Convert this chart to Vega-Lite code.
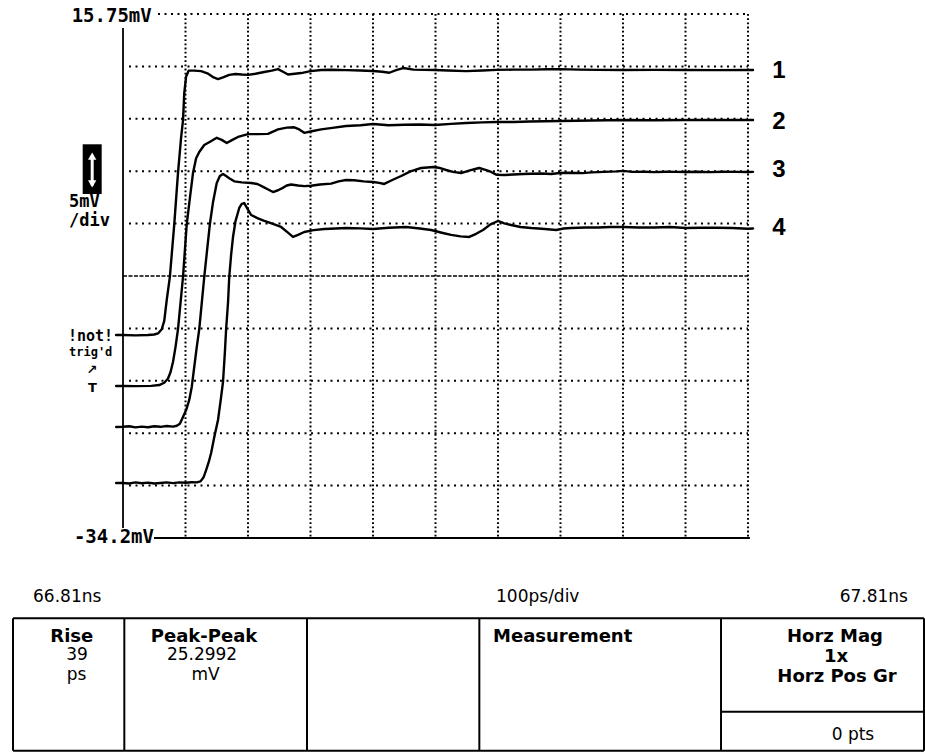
{
  "$schema": "https://vega.github.io/schema/vega-lite/v6.json",
  "padding": {"left": 12, "top": 4, "right": 2, "bottom": 0},
  "spacing": 0,
  "config": {"view": {"stroke": null}, "font": "DejaVu Sans"},
  "datasets": {
    "vgrid": [
      {"t": 100, "top": 15.75, "bottom": -34.2}, {"t": 200, "top": 15.75, "bottom": -34.2},
      {"t": 300, "top": 15.75, "bottom": -34.2}, {"t": 400, "top": 15.75, "bottom": -34.2},
      {"t": 500, "top": 15.75, "bottom": -34.2}, {"t": 600, "top": 15.75, "bottom": -34.2},
      {"t": 700, "top": 15.75, "bottom": -34.2}, {"t": 800, "top": 15.75, "bottom": -34.2},
      {"t": 900, "top": 15.75, "bottom": -34.2}, {"t": 1000, "top": 15.75, "bottom": -34.2}
    ],
    "hgrid": [
      {"v": 15.75, "from": 56, "to": 1000},
      {"v": 10.755, "from": 9.6, "to": 1000},
      {"v": 5.76, "from": 9.6, "to": 1000},
      {"v": 0.765, "from": 9.6, "to": 1000},
      {"v": -4.23, "from": 9.6, "to": 1000},
      {"v": -14.22, "from": 9.6, "to": 1000},
      {"v": -19.215, "from": 9.6, "to": 1000},
      {"v": -24.21, "from": 9.6, "to": 1000},
      {"v": -29.205, "from": 9.6, "to": 1000}
    ],
    "centerLine": [{"v": -9.225, "from": 0, "to": 1000}],
    "solidH": [{"v": -34.2, "from": 49.6, "to": 1003}],
    "solidV": [{"t": 0, "top": 14.42, "bottom": -33.24}],
    "icon": [{"t1": -64.5, "t2": -34.1, "v1": 3.33, "v2": -1.41}],
    "iconShaft": [{"t": -49.3, "top": 2.3, "bottom": -0.6}],
    "iconHeads": [{"t": -49.3, "v": 2.2, "dir": "up"}, {"t": -49.3, "v": -0.45, "dir": "down"}],
    "limits": [{"t": 46, "v": 15.56, "label": "15.75mV"}, {"t": 49.6, "v": -34.1, "label": "-34.2mV"}],
    "scaleLabel": [{"t": -86.4, "v": -2.17, "label": "5mV"}, {"t": -86.4, "v": -3.95, "label": "/div"}],
    "notLabel": [{"t": -88, "v": -14.94, "label": "!not!"}],
    "trigLabel": [{"t": -86.4, "v": -16.5, "label": "trig'd"}],
    "trigMarks": [{"t": -49.6, "v": -18.15, "label": "↗"}, {"t": -49.0, "v": -19.9, "label": "T"}],
    "traceLabels": [
      {"t": 1049.6, "v": 10.32, "label": "1"}, {"t": 1049.6, "v": 5.5, "label": "2"},
      {"t": 1049.6, "v": 0.88, "label": "3"}, {"t": 1049.6, "v": -4.65, "label": "4"}
    ],
    "traces": [
      {"s":"1","t":-11,"v":-14.85},{"s":"1","t":0,"v":-14.85},{"s":"1","t":20,"v":-14.88},{"s":"1","t":40,"v":-14.85},{"s":"1","t":50,"v":-14.8},{"s":"1","t":56,"v":-14.7},{"s":"1","t":62,"v":-14.3},{"s":"1","t":66,"v":-13.5},{"s":"1","t":70,"v":-11.5},{"s":"1","t":75,"v":-9.3},{"s":"1","t":82,"v":-4.3},{"s":"1","t":88,"v":0.6},{"s":"1","t":93,"v":4.0},{"s":"1","t":96,"v":5.6},{"s":"1","t":98,"v":8.2},{"s":"1","t":101,"v":9.8},{"s":"1","t":105,"v":10.35},{"s":"1","t":114,"v":10.35},{"s":"1","t":125,"v":10.3},{"s":"1","t":135,"v":10.1},{"s":"1","t":145,"v":9.7},{"s":"1","t":152,"v":9.55},{"s":"1","t":160,"v":9.7},{"s":"1","t":170,"v":9.95},{"s":"1","t":180,"v":10.03},{"s":"1","t":190,"v":9.98},{"s":"1","t":200,"v":9.95},{"s":"1","t":212,"v":10.05},{"s":"1","t":226,"v":10.22},{"s":"1","t":238,"v":10.35},{"s":"1","t":248,"v":10.5},{"s":"1","t":256,"v":10.25},{"s":"1","t":264,"v":9.98},{"s":"1","t":275,"v":10.05},{"s":"1","t":285,"v":10.12},{"s":"1","t":300,"v":10.3},{"s":"1","t":317,"v":10.41},{"s":"1","t":335,"v":10.43},{"s":"1","t":357,"v":10.4},{"s":"1","t":380,"v":10.36},{"s":"1","t":400,"v":10.32},{"s":"1","t":415,"v":10.25},{"s":"1","t":426,"v":10.15},{"s":"1","t":437,"v":10.4},{"s":"1","t":448,"v":10.6},{"s":"1","t":465,"v":10.45},{"s":"1","t":499,"v":10.41},{"s":"1","t":520,"v":10.36},{"s":"1","t":549,"v":10.3},{"s":"1","t":575,"v":10.36},{"s":"1","t":598,"v":10.42},{"s":"1","t":625,"v":10.45},{"s":"1","t":653,"v":10.45},{"s":"1","t":680,"v":10.48},{"s":"1","t":699,"v":10.5},{"s":"1","t":730,"v":10.45},{"s":"1","t":760,"v":10.42},{"s":"1","t":800,"v":10.41},{"s":"1","t":850,"v":10.42},{"s":"1","t":900,"v":10.41},{"s":"1","t":950,"v":10.4},{"s":"1","t":1000,"v":10.41},{"s":"1","t":1008,"v":10.41},
      {"s":"2","t":-11,"v":-19.71},{"s":"2","t":0,"v":-19.7},{"s":"2","t":20,"v":-19.72},{"s":"2","t":45,"v":-19.7},{"s":"2","t":58,"v":-19.62},{"s":"2","t":66,"v":-19.4},{"s":"2","t":72,"v":-19.0},{"s":"2","t":76,"v":-18.4},{"s":"2","t":80,"v":-17.42},{"s":"2","t":84,"v":-16.0},{"s":"2","t":88,"v":-14.28},{"s":"2","t":92,"v":-11.8},{"s":"2","t":96,"v":-9.32},{"s":"2","t":102,"v":-4.27},{"s":"2","t":107,"v":-1.8},{"s":"2","t":112,"v":0.59},{"s":"2","t":117,"v":2.0},{"s":"2","t":122,"v":2.6},{"s":"2","t":130,"v":3.26},{"s":"2","t":140,"v":3.6},{"s":"2","t":150,"v":3.95},{"s":"2","t":158,"v":3.75},{"s":"2","t":166,"v":3.45},{"s":"2","t":175,"v":3.75},{"s":"2","t":184,"v":4.03},{"s":"2","t":200,"v":4.3},{"s":"2","t":215,"v":4.3},{"s":"2","t":232,"v":4.32},{"s":"2","t":248,"v":4.75},{"s":"2","t":262,"v":4.92},{"s":"2","t":274,"v":4.95},{"s":"2","t":282,"v":4.75},{"s":"2","t":290,"v":4.42},{"s":"2","t":300,"v":4.55},{"s":"2","t":317,"v":4.75},{"s":"2","t":335,"v":4.9},{"s":"2","t":357,"v":5.07},{"s":"2","t":380,"v":5.15},{"s":"2","t":400,"v":5.26},{"s":"2","t":425,"v":5.15},{"s":"2","t":450,"v":5.2},{"s":"2","t":475,"v":5.22},{"s":"2","t":499,"v":5.17},{"s":"2","t":525,"v":5.28},{"s":"2","t":549,"v":5.36},{"s":"2","t":575,"v":5.42},{"s":"2","t":598,"v":5.46},{"s":"2","t":625,"v":5.45},{"s":"2","t":650,"v":5.5},{"s":"2","t":675,"v":5.52},{"s":"2","t":699,"v":5.55},{"s":"2","t":725,"v":5.57},{"s":"2","t":750,"v":5.6},{"s":"2","t":775,"v":5.62},{"s":"2","t":800,"v":5.65},{"s":"2","t":850,"v":5.62},{"s":"2","t":900,"v":5.65},{"s":"2","t":950,"v":5.65},{"s":"2","t":1000,"v":5.65},{"s":"2","t":1008,"v":5.65},
      {"s":"3","t":-11,"v":-23.62},{"s":"3","t":0,"v":-23.6},{"s":"3","t":10,"v":-23.55},{"s":"3","t":20,"v":-23.65},{"s":"3","t":30,"v":-23.58},{"s":"3","t":40,"v":-23.64},{"s":"3","t":50,"v":-23.55},{"s":"3","t":60,"v":-23.6},{"s":"3","t":70,"v":-23.52},{"s":"3","t":80,"v":-23.58},{"s":"3","t":86,"v":-23.5},{"s":"3","t":91,"v":-23.3},{"s":"3","t":96,"v":-22.66},{"s":"3","t":101,"v":-22.0},{"s":"3","t":106,"v":-21.04},{"s":"3","t":110,"v":-19.8},{"s":"3","t":114,"v":-17.9},{"s":"3","t":118,"v":-16.0},{"s":"3","t":122,"v":-14.28},{"s":"3","t":126,"v":-11.8},{"s":"3","t":130,"v":-9.32},{"s":"3","t":135,"v":-6.5},{"s":"3","t":139,"v":-4.27},{"s":"3","t":144,"v":-2.2},{"s":"3","t":150,"v":-0.36},{"s":"3","t":155,"v":0.3},{"s":"3","t":160,"v":0.5},{"s":"3","t":165,"v":0.3},{"s":"3","t":170,"v":0.1},{"s":"3","t":178,"v":-0.2},{"s":"3","t":190,"v":-0.3},{"s":"3","t":205,"v":-0.36},{"s":"3","t":215,"v":-0.45},{"s":"3","t":225,"v":-0.75},{"s":"3","t":233,"v":-1.0},{"s":"3","t":240,"v":-1.22},{"s":"3","t":248,"v":-1.05},{"s":"3","t":255,"v":-0.85},{"s":"3","t":262,"v":-0.6},{"s":"3","t":269,"v":-0.5},{"s":"3","t":280,"v":-0.6},{"s":"3","t":290,"v":-0.66},{"s":"3","t":301,"v":-0.62},{"s":"3","t":315,"v":-0.5},{"s":"3","t":333,"v":-0.42},{"s":"3","t":345,"v":-0.2},{"s":"3","t":357,"v":-0.07},{"s":"3","t":370,"v":-0.1},{"s":"3","t":385,"v":-0.2},{"s":"3","t":400,"v":-0.26},{"s":"3","t":410,"v":-0.35},{"s":"3","t":418,"v":-0.45},{"s":"3","t":430,"v":-0.1},{"s":"3","t":445,"v":0.31},{"s":"3","t":460,"v":0.75},{"s":"3","t":477,"v":1.07},{"s":"3","t":487,"v":1.12},{"s":"3","t":496,"v":1.17},{"s":"3","t":505,"v":1.1},{"s":"3","t":517,"v":0.88},{"s":"3","t":528,"v":0.7},{"s":"3","t":541,"v":0.59},{"s":"3","t":555,"v":0.85},{"s":"3","t":565,"v":1.0},{"s":"3","t":570,"v":1.07},{"s":"3","t":580,"v":0.9},{"s":"3","t":589,"v":0.69},{"s":"3","t":598,"v":0.42},{"s":"3","t":610,"v":0.4},{"s":"3","t":625,"v":0.45},{"s":"3","t":640,"v":0.5},{"s":"3","t":653,"v":0.52},{"s":"3","t":670,"v":0.55},{"s":"3","t":685,"v":0.5},{"s":"3","t":699,"v":0.6},{"s":"3","t":715,"v":0.62},{"s":"3","t":735,"v":0.58},{"s":"3","t":750,"v":0.65},{"s":"3","t":770,"v":0.7},{"s":"3","t":790,"v":0.75},{"s":"3","t":800,"v":0.8},{"s":"3","t":815,"v":0.7},{"s":"3","t":835,"v":0.72},{"s":"3","t":850,"v":0.68},{"s":"3","t":870,"v":0.72},{"s":"3","t":885,"v":0.7},{"s":"3","t":901,"v":0.69},{"s":"3","t":920,"v":0.72},{"s":"3","t":940,"v":0.68},{"s":"3","t":960,"v":0.72},{"s":"3","t":980,"v":0.7},{"s":"3","t":1000,"v":0.69},{"s":"3","t":1008,"v":0.7},
      {"s":"4","t":-11,"v":-28.96},{"s":"4","t":0,"v":-28.95},{"s":"4","t":10,"v":-29.0},{"s":"4","t":20,"v":-28.9},{"s":"4","t":30,"v":-28.98},{"s":"4","t":40,"v":-28.92},{"s":"4","t":50,"v":-29.0},{"s":"4","t":60,"v":-28.95},{"s":"4","t":70,"v":-28.9},{"s":"4","t":80,"v":-28.97},{"s":"4","t":90,"v":-28.9},{"s":"4","t":100,"v":-28.93},{"s":"4","t":110,"v":-28.88},{"s":"4","t":118,"v":-28.9},{"s":"4","t":124,"v":-28.8},{"s":"4","t":129,"v":-28.4},{"s":"4","t":133,"v":-27.72},{"s":"4","t":137,"v":-27.0},{"s":"4","t":141,"v":-26.1},{"s":"4","t":146,"v":-24.6},{"s":"4","t":152,"v":-22.95},{"s":"4","t":156,"v":-21.2},{"s":"4","t":160,"v":-19.33},{"s":"4","t":163,"v":-16.5},{"s":"4","t":165,"v":-14.28},{"s":"4","t":168,"v":-11.8},{"s":"4","t":170,"v":-9.32},{"s":"4","t":173,"v":-7.2},{"s":"4","t":176,"v":-5.51},{"s":"4","t":180,"v":-4.0},{"s":"4","t":186,"v":-2.74},{"s":"4","t":190,"v":-2.35},{"s":"4","t":194,"v":-2.27},{"s":"4","t":199,"v":-2.8},{"s":"4","t":205,"v":-3.41},{"s":"4","t":215,"v":-3.7},{"s":"4","t":225,"v":-3.95},{"s":"4","t":232,"v":-4.08},{"s":"4","t":242,"v":-4.3},{"s":"4","t":253,"v":-4.55},{"s":"4","t":262,"v":-5.0},{"s":"4","t":272,"v":-5.5},{"s":"4","t":280,"v":-5.3},{"s":"4","t":290,"v":-5.03},{"s":"4","t":305,"v":-4.85},{"s":"4","t":322,"v":-4.74},{"s":"4","t":340,"v":-4.7},{"s":"4","t":357,"v":-4.65},{"s":"4","t":380,"v":-4.68},{"s":"4","t":400,"v":-4.74},{"s":"4","t":425,"v":-4.62},{"s":"4","t":453,"v":-4.55},{"s":"4","t":475,"v":-4.7},{"s":"4","t":493,"v":-4.84},{"s":"4","t":510,"v":-5.1},{"s":"4","t":525,"v":-5.31},{"s":"4","t":540,"v":-5.45},{"s":"4","t":554,"v":-5.5},{"s":"4","t":565,"v":-5.2},{"s":"4","t":576,"v":-4.84},{"s":"4","t":588,"v":-4.3},{"s":"4","t":600,"v":-3.98},{"s":"4","t":610,"v":-4.2},{"s":"4","t":621,"v":-4.36},{"s":"4","t":636,"v":-4.55},{"s":"4","t":653,"v":-4.65},{"s":"4","t":670,"v":-4.72},{"s":"4","t":693,"v":-4.84},{"s":"4","t":705,"v":-4.7},{"s":"4","t":717,"v":-4.65},{"s":"4","t":740,"v":-4.6},{"s":"4","t":760,"v":-4.6},{"s":"4","t":780,"v":-4.55},{"s":"4","t":800,"v":-4.55},{"s":"4","t":825,"v":-4.6},{"s":"4","t":850,"v":-4.6},{"s":"4","t":875,"v":-4.55},{"s":"4","t":901,"v":-4.65},{"s":"4","t":925,"v":-4.62},{"s":"4","t":950,"v":-4.62},{"s":"4","t":975,"v":-4.65},{"s":"4","t":1000,"v":-4.72},{"s":"4","t":1008,"v":-4.7}
    ],
    "tableH": [
      {"v": 34.46, "from": 0, "to": 100},
      {"v": 99.36, "from": 0, "to": 100},
      {"v": 80.25, "from": 77.72, "to": 100}
    ],
    "tableV": [
      {"t": 0, "top": 34.46, "bottom": 99.36}, {"t": 12.22, "top": 34.46, "bottom": 99.36},
      {"t": 32.27, "top": 34.46, "bottom": 99.36}, {"t": 51.19, "top": 34.46, "bottom": 99.36},
      {"t": 77.72, "top": 34.46, "bottom": 99.36}, {"t": 100, "top": 34.46, "bottom": 99.36}
    ],
    "tableText": [
      {"kind": "regLeft", "t": 2.2, "v": 26.3, "label": "66.81ns"},
      {"kind": "regCenter", "t": 57.6, "v": 26.3, "label": "100ps/div"},
      {"kind": "regRight", "t": 98.24, "v": 26.3, "label": "67.81ns"},
      {"kind": "boldCenter", "t": 6.45, "v": 45.9, "label": "Rise"},
      {"kind": "regCenter", "t": 7.03, "v": 54.9, "label": "39"},
      {"kind": "regCenter", "t": 6.97, "v": 64.7, "label": "ps"},
      {"kind": "boldCenter", "t": 20.97, "v": 45.9, "label": "Peak-Peak"},
      {"kind": "regCenter", "t": 20.75, "v": 54.9, "label": "25.2992"},
      {"kind": "regCenter", "t": 21.13, "v": 64.7, "label": "mV"},
      {"kind": "boldLeft", "t": 52.69, "v": 45.9, "label": "Measurement"},
      {"kind": "boldCenter", "t": 90.23, "v": 45.9, "label": "Horz Mag"},
      {"kind": "boldCenter", "t": 90.34, "v": 55.7, "label": "1x"},
      {"kind": "boldCenter", "t": 90.45, "v": 65.7, "label": "Horz Pos Gr"},
      {"kind": "regCenter", "t": 92.2, "v": 94.1, "label": "0 pts"}
    ]
  },
  "vconcat": [
    {
      "width": 911,
      "height": 544,
      "layer": [
        {
          "data": {"name": "vgrid"},
          "mark": {"type": "rule", "color": "black", "strokeWidth": 2, "strokeDash": [1.8, 2.4]},
          "encoding": {
            "x": {"field": "t", "type": "quantitative", "scale": {"domain": [-176, 1281.6], "nice": false, "zero": false}, "axis": null},
            "y": {"field": "top", "type": "quantitative", "scale": {"domain": [-35.151, 16.703], "nice": false, "zero": false}, "axis": null},
            "y2": {"field": "bottom"}
          }
        },
        {
          "data": {"name": "hgrid"},
          "mark": {"type": "rule", "color": "black", "strokeWidth": 2, "strokeDash": [2, 4.5]},
          "encoding": {
            "y": {"field": "v", "type": "quantitative", "scale": {"domain": [-35.151, 16.703], "nice": false, "zero": false}, "axis": null},
            "x": {"field": "from", "type": "quantitative", "scale": {"domain": [-176, 1281.6], "nice": false, "zero": false}, "axis": null},
            "x2": {"field": "to"}
          }
        },
        {
          "data": {"name": "centerLine"},
          "mark": {"type": "rule", "color": "black", "strokeWidth": 1.5, "strokeDash": [4, 1.5]},
          "encoding": {
            "y": {"field": "v", "type": "quantitative"},
            "x": {"field": "from", "type": "quantitative"},
            "x2": {"field": "to"}
          }
        },
        {
          "data": {"name": "solidH"},
          "mark": {"type": "rule", "color": "black", "strokeWidth": 2.2},
          "encoding": {
            "y": {"field": "v", "type": "quantitative"},
            "x": {"field": "from", "type": "quantitative"},
            "x2": {"field": "to"}
          }
        },
        {
          "data": {"name": "solidV"},
          "mark": {"type": "rule", "color": "black", "strokeWidth": 1.8},
          "encoding": {
            "x": {"field": "t", "type": "quantitative"},
            "y": {"field": "top", "type": "quantitative"},
            "y2": {"field": "bottom"}
          }
        },
        {
          "data": {"name": "traces"},
          "mark": {"type": "line", "color": "black", "strokeJoin": "round", "strokeCap": "round"},
          "encoding": {
            "x": {"field": "t", "type": "quantitative"},
            "y": {"field": "v", "type": "quantitative"},
            "detail": {"field": "s", "type": "nominal"},
            "strokeWidth": {"field": "s", "type": "nominal", "scale": {"domain": ["1", "2", "3", "4"], "range": [2.4, 2.4, 3.6, 3.2]}, "legend": null}
          }
        },
        {
          "data": {"name": "icon"},
          "mark": {"type": "rect", "color": "black"},
          "encoding": {
            "x": {"field": "t1", "type": "quantitative"},
            "x2": {"field": "t2"},
            "y": {"field": "v1", "type": "quantitative"},
            "y2": {"field": "v2"}
          }
        },
        {
          "data": {"name": "iconShaft"},
          "mark": {"type": "rule", "color": "white", "strokeWidth": 3},
          "encoding": {
            "x": {"field": "t", "type": "quantitative"},
            "y": {"field": "top", "type": "quantitative"},
            "y2": {"field": "bottom"}
          }
        },
        {
          "data": {"name": "iconHeads"},
          "mark": {"type": "point", "filled": true, "color": "white", "opacity": 1, "size": 70},
          "encoding": {
            "x": {"field": "t", "type": "quantitative"},
            "y": {"field": "v", "type": "quantitative"},
            "shape": {"field": "dir", "type": "nominal", "scale": {"domain": ["up", "down"], "range": ["triangle-up", "triangle-down"]}, "legend": null}
          }
        },
        {
          "data": {"name": "limits"},
          "mark": {"type": "text", "font": "DejaVu Sans Mono", "fontWeight": "bold", "fontSize": 19, "align": "right", "baseline": "middle", "color": "black"},
          "encoding": {
            "x": {"field": "t", "type": "quantitative"},
            "y": {"field": "v", "type": "quantitative"},
            "text": {"field": "label"}
          }
        },
        {
          "data": {"name": "scaleLabel"},
          "mark": {"type": "text", "font": "DejaVu Sans Mono", "fontWeight": "bold", "fontSize": 17, "align": "left", "baseline": "middle", "color": "black"},
          "encoding": {
            "x": {"field": "t", "type": "quantitative"},
            "y": {"field": "v", "type": "quantitative"},
            "text": {"field": "label"}
          }
        },
        {
          "data": {"name": "notLabel"},
          "mark": {"type": "text", "font": "DejaVu Sans Mono", "fontWeight": "bold", "fontSize": 15, "align": "left", "baseline": "middle", "color": "black"},
          "encoding": {
            "x": {"field": "t", "type": "quantitative"},
            "y": {"field": "v", "type": "quantitative"},
            "text": {"field": "label"}
          }
        },
        {
          "data": {"name": "trigLabel"},
          "mark": {"type": "text", "font": "DejaVu Sans Mono", "fontWeight": "bold", "fontSize": 12, "align": "left", "baseline": "middle", "color": "black"},
          "encoding": {
            "x": {"field": "t", "type": "quantitative"},
            "y": {"field": "v", "type": "quantitative"},
            "text": {"field": "label"}
          }
        },
        {
          "data": {"name": "trigMarks"},
          "mark": {"type": "text", "font": "DejaVu Sans", "fontWeight": "bold", "fontSize": 13, "align": "center", "baseline": "middle", "color": "black"},
          "encoding": {
            "x": {"field": "t", "type": "quantitative"},
            "y": {"field": "v", "type": "quantitative"},
            "text": {"field": "label"}
          }
        },
        {
          "data": {"name": "traceLabels"},
          "mark": {"type": "text", "font": "Liberation Sans", "fontWeight": "bold", "fontSize": 24, "align": "center", "baseline": "middle", "color": "black"},
          "encoding": {
            "x": {"field": "t", "type": "quantitative"},
            "y": {"field": "v", "type": "quantitative"},
            "text": {"field": "label"}
          }
        }
      ]
    },
    {
      "width": 911,
      "height": 204,
      "layer": [
        {
          "data": {"name": "tableH"},
          "mark": {"type": "rule", "color": "black", "strokeWidth": 2},
          "encoding": {
            "y": {"field": "v", "type": "quantitative", "scale": {"domain": [0, 100], "nice": false, "zero": false, "reverse": true}, "axis": null},
            "x": {"field": "from", "type": "quantitative", "scale": {"domain": [0, 100], "nice": false, "zero": false}, "axis": null},
            "x2": {"field": "to"}
          }
        },
        {
          "data": {"name": "tableV"},
          "mark": {"type": "rule", "color": "black", "strokeWidth": 2},
          "encoding": {
            "x": {"field": "t", "type": "quantitative"},
            "y": {"field": "top", "type": "quantitative"},
            "y2": {"field": "bottom"}
          }
        },
        {
          "data": {"name": "tableText"},
          "transform": [{"filter": "datum.kind === 'regLeft'"}],
          "mark": {"type": "text", "font": "DejaVu Sans", "fontSize": 17, "align": "left", "baseline": "alphabetic", "color": "black"},
          "encoding": {"x": {"field": "t", "type": "quantitative"}, "y": {"field": "v", "type": "quantitative"}, "text": {"field": "label"}}
        },
        {
          "data": {"name": "tableText"},
          "transform": [{"filter": "datum.kind === 'regCenter'"}],
          "mark": {"type": "text", "font": "DejaVu Sans", "fontSize": 17, "align": "center", "baseline": "alphabetic", "color": "black"},
          "encoding": {"x": {"field": "t", "type": "quantitative"}, "y": {"field": "v", "type": "quantitative"}, "text": {"field": "label"}}
        },
        {
          "data": {"name": "tableText"},
          "transform": [{"filter": "datum.kind === 'regRight'"}],
          "mark": {"type": "text", "font": "DejaVu Sans", "fontSize": 17, "align": "right", "baseline": "alphabetic", "color": "black"},
          "encoding": {"x": {"field": "t", "type": "quantitative"}, "y": {"field": "v", "type": "quantitative"}, "text": {"field": "label"}}
        },
        {
          "data": {"name": "tableText"},
          "transform": [{"filter": "datum.kind === 'boldCenter'"}],
          "mark": {"type": "text", "font": "DejaVu Sans", "fontWeight": "bold", "fontSize": 18, "align": "center", "baseline": "alphabetic", "color": "black"},
          "encoding": {"x": {"field": "t", "type": "quantitative"}, "y": {"field": "v", "type": "quantitative"}, "text": {"field": "label"}}
        },
        {
          "data": {"name": "tableText"},
          "transform": [{"filter": "datum.kind === 'boldLeft'"}],
          "mark": {"type": "text", "font": "DejaVu Sans", "fontWeight": "bold", "fontSize": 18, "align": "left", "baseline": "alphabetic", "color": "black"},
          "encoding": {"x": {"field": "t", "type": "quantitative"}, "y": {"field": "v", "type": "quantitative"}, "text": {"field": "label"}}
        }
      ]
    }
  ]
}
